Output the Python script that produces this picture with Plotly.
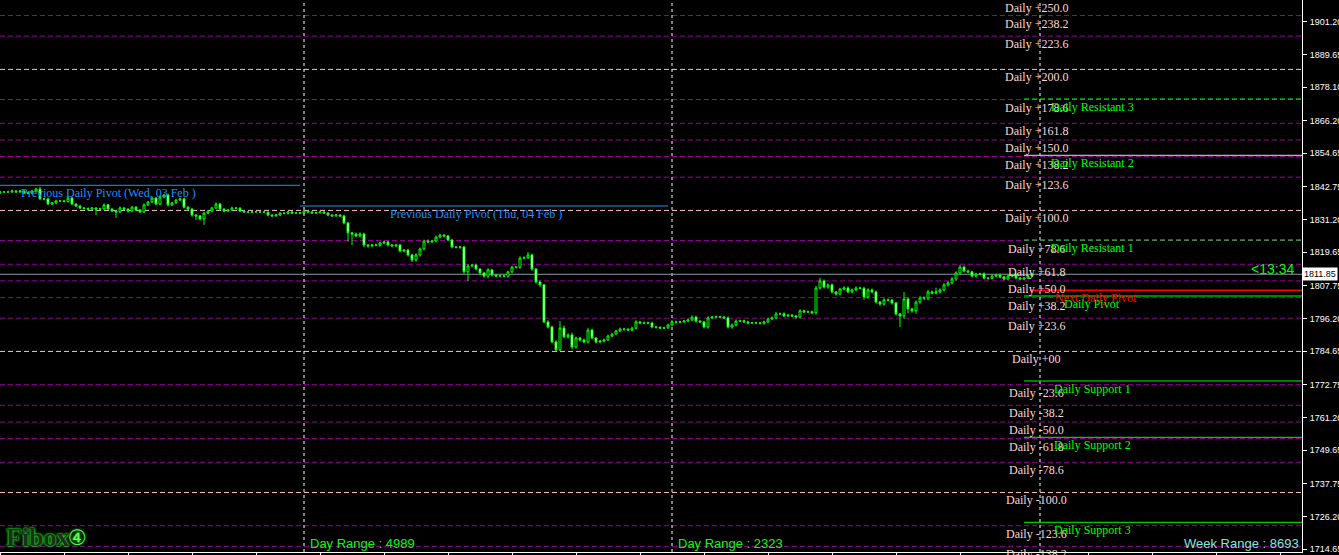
import plotly.graph_objects as go

# ---------------- data ----------------
opens = [
1840.6,1841.0,1841.0,1841.0,1841.3,1841.0,1841.3,1840.6,1840.6,1841.3,
1842.0,1838.5,1838.5,1836.7,1837.1,1837.8,1837.8,1837.6,1838.8,1836.7,
1836.0,1835.3,1835.1,1834.9,1835.3,1834.9,1835.0,1836.4,1834.9,1834.2,
1833.9,1835.3,1834.9,1834.2,1835.6,1834.6,1833.9,1836.4,1837.4,1838.8,
1836.7,1839.2,1839.9,1836.4,1837.1,1838.1,1838.5,1835.6,1834.9,1832.8,
1832.5,1831.4,1833.5,1834.2,1835.3,1836.7,1834.9,1834.2,1834.6,1835.3,
1835.2,1834.2,1833.9,1833.8,1833.9,1834.0,1833.9,1833.8,1832.8,1832.5,
1832.8,1833.5,1833.4,1833.9,1833.5,1833.6,1833.5,1834.2,1833.9,1833.5,
1833.6,1833.9,1833.5,1832.8,1832.5,1832.8,1832.5,1830.0,1826.5,1826.1,
1825.4,1826.1,1822.2,1821.9,1822.2,1822.1,1822.9,1823.3,1822.2,1821.9,
1822.2,1820.1,1820.4,1818.7,1816.9,1818.7,1820.8,1823.6,1823.3,1823.6,
1825.0,1825.7,1825.4,1824.0,1821.5,1821.4,1821.5,1812.7,1814.8,1815.1,
1813.7,1812.3,1811.2,1813.4,1811.6,1811.2,1811.3,1811.2,1812.7,1814.4,
1814.3,1817.6,1817.7,1818.7,1813.7,1809.1,1808.1,1795.0,1793.2,1787.9,
1785.1,1792.8,1789.7,1790.4,1786.1,1789.3,1788.6,1787.9,1792.1,1789.3,
1787.9,1788.2,1788.6,1790.0,1790.7,1791.8,1792.5,1792.4,1792.1,1792.8,
1795.0,1794.6,1794.7,1794.6,1793.2,1793.1,1792.8,1792.9,1793.9,1795.0,
1794.9,1795.0,1795.3,1795.7,1796.7,1795.3,1795.0,1793.2,1796.4,1796.7,
1796.8,1796.7,1796.4,1793.2,1793.9,1795.3,1795.4,1795.0,1794.6,1794.7,
1794.6,1794.5,1795.0,1796.0,1796.4,1797.8,1797.9,1797.1,1797.4,1797.1,
1796.7,1798.9,1798.5,1798.6,1798.2,1807.0,1809.5,1807.3,1808.1,1805.6,
1804.9,1806.6,1807.0,1805.6,1806.3,1807.0,1806.9,1803.8,1806.3,1805.6,
1802.0,1801.3,1802.8,1802.7,1801.7,1797.8,1797.1,1803.1,1799.6,1798.9,
1802.0,1803.5,1803.4,1805.6,1805.2,1805.6,1806.3,1808.1,1808.8,1810.2,
1812.3,1814.4,1813.0,1812.7,1811.2,1811.9,1812.0,1810.5,1810.4,1811.2,
1811.6,1810.9,1810.2,1811.2,1811.6,1810.5,1810.2,1810.5,1811.2]

closes = [
1841.0,1841.0,1841.0,1841.3,1841.0,1841.3,1840.6,1840.6,1841.3,1842.0,
1838.5,1838.5,1836.7,1837.1,1837.8,1837.8,1837.6,1838.8,1836.7,1836.0,
1835.3,1835.1,1834.9,1835.3,1834.9,1835.0,1836.4,1834.9,1834.2,1833.9,
1835.3,1834.9,1834.2,1835.6,1834.6,1833.9,1836.4,1837.4,1838.8,1836.7,
1839.2,1839.9,1836.4,1837.1,1838.1,1838.5,1835.6,1834.9,1832.8,1832.5,
1831.4,1833.5,1834.2,1835.3,1836.7,1834.9,1834.2,1834.6,1835.3,1835.2,
1834.2,1833.9,1833.8,1833.9,1834.0,1833.9,1833.8,1832.8,1832.5,1832.8,
1833.5,1833.4,1833.9,1833.5,1833.6,1833.5,1834.2,1833.9,1833.5,1833.6,
1833.9,1833.5,1832.8,1832.5,1832.8,1832.5,1830.0,1826.5,1826.1,1825.4,
1826.1,1822.2,1821.9,1822.2,1822.1,1822.9,1823.3,1822.2,1821.9,1822.2,
1820.1,1820.4,1818.7,1816.9,1818.7,1820.8,1823.6,1823.3,1823.6,1825.0,
1825.7,1825.4,1824.0,1821.5,1821.4,1821.5,1812.7,1814.8,1815.1,1813.7,
1812.3,1811.2,1813.4,1811.6,1811.2,1811.3,1811.2,1812.7,1814.4,1814.3,
1817.6,1817.7,1818.7,1813.7,1809.1,1808.1,1795.0,1793.2,1787.9,1785.1,
1792.8,1789.7,1790.4,1786.1,1789.3,1788.6,1787.9,1792.1,1789.3,1787.9,
1788.2,1788.6,1790.0,1790.7,1791.8,1792.5,1792.4,1792.1,1792.8,1795.0,
1794.6,1794.7,1794.6,1793.2,1793.1,1792.8,1792.9,1793.9,1795.0,1794.9,
1795.0,1795.3,1795.7,1796.7,1795.3,1795.0,1793.2,1796.4,1796.7,1796.8,
1796.7,1796.4,1793.2,1793.9,1795.3,1795.4,1795.0,1794.6,1794.7,1794.6,
1794.5,1795.0,1796.0,1796.4,1797.8,1797.9,1797.1,1797.4,1797.1,1796.7,
1798.9,1798.5,1798.6,1798.2,1807.0,1809.5,1807.3,1808.1,1805.6,1804.9,
1806.6,1807.0,1805.6,1806.3,1807.0,1806.9,1803.8,1806.3,1805.6,1802.0,
1801.3,1802.8,1802.7,1801.7,1797.8,1797.1,1803.1,1799.6,1798.9,1802.0,
1803.5,1803.4,1805.6,1805.2,1805.6,1806.3,1808.1,1808.8,1810.2,1812.3,
1814.4,1813.0,1812.7,1811.2,1811.9,1812.0,1810.5,1810.4,1811.2,1811.6,
1810.9,1810.2,1811.2,1811.6,1810.5,1810.2,1810.5,1811.2,1811.85]

wick_up = [
0.4,0.3,0.4,0.5,0.3,0.4,0.3,0.4,0.5,0.5,
0.8,0.4,0.5,0.3,0.4,0.4,0.3,0.5,0.4,0.3,
0.4,0.3,0.4,0.4,0.3,0.4,0.5,0.3,0.4,0.3,
0.5,0.4,0.3,0.4,0.4,0.3,0.5,0.4,0.6,0.4,
0.5,0.4,0.5,0.4,0.4,0.4,0.4,0.3,0.4,0.3,
0.3,0.5,0.4,0.4,0.6,0.4,0.3,0.4,0.5,0.4,
0.4,0.3,0.3,0.4,0.3,0.3,0.4,0.3,0.3,0.4,
0.4,0.3,0.4,0.3,0.3,0.3,0.5,0.3,0.3,0.4,
0.3,0.3,0.4,0.3,0.3,0.3,0.4,0.4,0.3,0.5,
0.6,0.5,0.4,0.4,0.5,0.5,0.4,0.4,0.3,0.4,
0.4,0.4,0.5,0.4,0.6,0.5,0.5,0.6,0.4,0.5,
0.5,0.4,0.4,0.4,0.3,0.4,0.4,0.6,0.4,0.5,
0.4,0.4,0.6,0.4,0.3,0.4,0.3,0.4,0.5,0.4,
0.6,0.5,1.0,0.5,0.4,0.5,0.4,0.6,0.5,0.6,
2.5,1.0,0.6,0.8,0.5,0.4,0.5,0.7,0.5,0.4,
0.4,0.5,0.5,0.4,0.4,0.5,0.4,0.4,0.5,0.6,
0.4,0.4,0.4,0.5,0.4,0.3,0.4,0.5,0.6,0.4,
0.4,0.4,0.5,0.6,0.5,0.4,0.4,0.6,0.4,0.4,
0.4,0.5,0.6,0.5,0.6,0.4,0.4,0.4,0.3,0.4,
0.3,0.4,0.5,0.5,0.7,0.4,0.5,0.4,0.4,0.4,
0.6,0.4,0.4,0.4,0.7,1.1,0.5,0.5,0.5,0.4,
0.5,0.6,0.5,0.5,0.6,0.4,0.5,0.6,0.5,0.5,
0.4,0.6,0.5,0.5,0.4,0.4,2.5,0.5,0.4,0.6,
0.6,0.5,0.7,0.5,1.5,0.6,0.6,0.6,0.7,0.6,
0.8,0.6,0.5,0.4,0.5,0.4,0.5,0.4,0.5,0.4,
0.5,0.4,0.6,0.4,0.5,0.4,0.4,0.5,0.3]

wick_dn = [
0.4,0.4,0.3,0.4,0.4,0.3,0.4,0.4,0.4,0.4,
0.4,0.5,0.4,0.4,0.5,0.4,0.4,0.4,0.5,0.4,
0.4,0.4,0.5,0.4,2.1,0.4,0.4,0.5,0.4,2.1,
0.4,0.4,0.5,0.4,0.5,0.4,0.4,0.4,0.4,0.5,
0.4,0.5,0.5,0.4,0.4,0.4,0.5,0.5,0.6,1.4,
0.5,2.1,0.4,0.5,0.4,0.5,0.4,0.4,0.4,0.4,
0.4,0.4,0.3,0.3,0.3,0.3,0.3,0.4,0.4,0.3,
0.3,0.3,0.4,0.3,0.3,0.4,0.4,0.3,0.3,0.3,
0.3,0.3,0.4,0.4,0.3,0.4,0.5,3.1,3.9,0.5,
0.5,0.8,0.6,0.5,0.4,0.5,0.4,0.5,0.5,0.5,
0.5,0.5,0.6,0.7,0.6,0.6,0.5,0.5,0.5,0.5,
0.4,0.5,0.5,0.5,0.4,0.5,0.6,3.2,0.6,0.5,
0.5,0.6,0.8,0.6,0.5,0.5,0.5,0.6,0.5,0.4,
0.5,0.5,0.5,0.6,0.6,0.7,0.5,0.5,0.5,0.4,
0.4,0.5,0.6,0.8,0.5,0.6,0.5,0.6,0.5,0.6,
0.5,0.5,0.4,0.5,0.4,0.4,0.5,0.4,0.5,0.5,
0.4,0.4,0.4,0.5,0.5,0.4,0.4,0.4,0.5,0.5,
0.4,0.4,0.4,0.5,0.6,0.4,0.5,0.6,0.4,0.4,
0.4,0.4,0.5,0.6,0.5,0.4,0.4,0.5,0.4,0.4,
0.4,0.5,0.5,0.4,0.5,0.4,0.5,0.4,0.4,0.5,
0.5,0.4,0.4,0.5,0.6,0.6,0.5,0.6,0.6,0.6,
0.6,0.5,0.5,0.5,0.5,0.4,1.0,0.6,0.5,0.6,
0.6,0.6,0.5,0.6,0.6,3.9,1.0,1.5,0.6,1.0,
0.6,0.6,0.8,0.5,0.5,0.6,0.6,0.6,0.6,0.6,
0.6,0.5,0.5,0.5,0.5,0.4,0.5,0.5,0.4,0.5,
0.5,0.5,0.5,0.4,0.5,0.4,0.4,0.5,0.4]

# previous day high / low used by the daily fibonacci
fib_low = 1784.55
fib_high = 1834.44
fib_levels = [250.0, 238.2, 223.6, 200.0, 178.6, 161.8, 150.0, 138.2, 123.6, 100.0,
              78.6, 61.8, 50.0, 38.2, 23.6, 0.0, -23.6, -38.2, -50.0, -61.8, -78.6,
              -100.0, -123.6, -138.2]

pivot_names = ["Daily Resistant 3", "Daily Resistant 2", "Daily Resistant 1",
               "Daily Pivot", "Daily Support 1", "Daily Support 2", "Daily Support 3"]
pivot_values = [1873.86, 1853.94, 1823.97, 1804.16, 1774.09, 1754.17, 1724.10]
next_pivot = 1806.18
prev_pivot_labels = ["Previous Daily Pivot (Wed, 03 Feb )", "Previous Daily Pivot (Thu, 04 Feb )"]
prev_pivot_values = [1843.32, 1836.0]
prev_pivot_bars = [(0, 75), (75, 167)]
day_starts = [76, 168, 260]
current_price = 1811.85
range_texts = ["Day Range : 4989", "Day Range : 2323"]
week_range_text = "Week Range : 8693"
timer_text = "<13:34"

price_ticks = [1901.20, 1889.65, 1878.10, 1866.20, 1854.65, 1842.75, 1831.20, 1819.65,
               1807.75, 1796.20, 1784.65, 1772.75, 1761.20, 1749.65, 1737.75, 1726.20, 1714.65]

Y_MIN, Y_MAX = 1713.59, 1908.88

# ---------------- figure ----------------
n = len(closes)
xs = list(range(n))
highs = [max(o, c) + w for o, c, w in zip(opens, closes, wick_up)]
lows = [min(o, c) - w for o, c, w in zip(opens, closes, wick_dn)]

LIME = "#00FF00"
SERIF = "Liberation Serif"
SANS = "Liberation Sans"

fig = go.Figure()
fig.add_trace(go.Candlestick(
    x=xs, open=opens, high=highs, low=lows, close=closes,
    increasing=dict(fillcolor="#000000", line=dict(color=LIME, width=1)),
    decreasing=dict(fillcolor="#FFFFFF", line=dict(color=LIME, width=1)),
    whiskerwidth=0, hoverinfo="skip", showlegend=False,
))

shapes = []
annotations = []

# fibonacci levels
for lv in fib_levels:
    p = fib_low + (fib_high - fib_low) * lv / 100.0
    col = "#FFC0CB" if abs(lv) % 100 == 0 else "#990099"
    shapes.append(dict(type="line", xref="paper", x0=0, x1=1, yref="y", y0=p, y1=p,
                       line=dict(color=col, width=1, dash="5px,3px"), layer="below"))
    if lv == 0:
        txt = "Daily +00"
    elif lv > 0:
        txt = "Daily +%.1f" % lv
    else:
        txt = "Daily -%.1f" % abs(lv)
    annotations.append(dict(x=259, y=min(p, Y_MAX - 0.05), xref="x", yref="y", text=txt, showarrow=False,
                            xanchor="center", yanchor="top", yshift=1,
                            font=dict(family=SERIF, size=12, color="#FFD6D6")))

# vertical day separators
for d in day_starts:
    shapes.append(dict(type="line", xref="x", x0=d, x1=d, yref="paper", y0=0, y1=1,
                       line=dict(color="#FFFFFF", width=1, dash="3px,3px"), layer="below"))

# current price line
shapes.append(dict(type="line", xref="paper", x0=0, x1=1, yref="y", y0=current_price, y1=current_price,
                   line=dict(color="#8A9AA8", width=1), layer="below"))

# previous pivots
for (a, b), v, t in zip(prev_pivot_bars, prev_pivot_values, prev_pivot_labels):
    shapes.append(dict(type="line", xref="x", x0=a, x1=b, yref="y", y0=v, y1=v,
                       line=dict(color="#1E90FF", width=1), layer="above"))
annotations.append(dict(x=27, y=prev_pivot_values[0], xref="x", yref="y", text=prev_pivot_labels[0],
                        showarrow=False, xanchor="center", yanchor="top", yshift=1,
                        font=dict(family=SERIF, size=12, color="#1E90FF")))
annotations.append(dict(x=119, y=prev_pivot_values[1], xref="x", yref="y", text=prev_pivot_labels[1],
                        showarrow=False, xanchor="center", yanchor="top", yshift=1,
                        font=dict(family=SERIF, size=12, color="#1E90FF")))

# pivot lines
pivot_styles = [("5px,3px", LIME), ("solid", "#B4FFB4"), ("5px,3px", LIME),
                ("solid", LIME), ("solid", LIME), ("solid", LIME), ("solid", LIME)]
for name, v, (dash, col) in zip(pivot_names, pivot_values, pivot_styles):
    shapes.append(dict(type="line", xref="x", x0=256, x1=325.5, yref="y", y0=v, y1=v,
                       line=dict(color=col, width=1, dash=dash), layer="above"))
    annotations.append(dict(x=273, y=v, xref="x", yref="y", text=name, showarrow=False,
                            xanchor="center", yanchor="top", yshift=1,
                            font=dict(family=SERIF, size=12, color=LIME)))
shapes.append(dict(type="line", xref="x", x0=257.5, x1=325.5, yref="y", y0=next_pivot, y1=next_pivot,
                   line=dict(color="#FF0000", width=1.5), layer="above"))
annotations.append(dict(x=274, y=next_pivot, xref="x", yref="y", text="Next Daily Pivot", showarrow=False,
                        xanchor="center", yanchor="top", yshift=1,
                        font=dict(family=SERIF, size=12, color="#FF0000")))

# range texts
annotations.append(dict(x=77, y=0.016, xref="x", yref="paper", text=range_texts[0], showarrow=False,
                        xanchor="left", yanchor="middle", font=dict(family=SANS, size=13, color=LIME)))
annotations.append(dict(x=169, y=0.016, xref="x", yref="paper", text=range_texts[1], showarrow=False,
                        xanchor="left", yanchor="middle", font=dict(family=SANS, size=13, color=LIME)))
annotations.append(dict(x=1, y=0.016, xref="paper", yref="paper", text=week_range_text, showarrow=False,
                        xanchor="right", yanchor="middle", xshift=-1,
                        font=dict(family=SANS, size=13, color="#7FE8D8")))
annotations.append(dict(x=324, y=1813.7, xref="x", yref="y", text=timer_text, showarrow=False,
                        xanchor="right", yanchor="middle",
                        font=dict(family=SANS, size=14, color=LIME)))

# current price box on axis
annotations.append(dict(x=1, y=current_price, xref="paper", yref="y", text="1811.85", showarrow=False,
                        xanchor="left", yanchor="middle", xshift=0, bgcolor="#FFFFFF", borderpad=1,
                        font=dict(family=SANS, size=9, color="#000000")))

# logo
annotations.append(dict(x=0.003, y=0.026, xref="paper", yref="paper", text="<b>Fibox</b>", showarrow=False,
                        xanchor="left", yanchor="middle",
                        font=dict(family=SERIF, size=26, color="#1E2E1E",
                                  shadow="0px 0px 2px #22FF22, 0px 0px 3px #22FF22")))
annotations.append(dict(x=0.0505, y=0.026, xref="paper", yref="paper", text="④", showarrow=False,
                        xanchor="left", yanchor="middle",
                        font=dict(family="DejaVu Sans", size=21, color="#55FF55",
                                  shadow="0px 0px 3px #22FF22")))

fig.update_layout(
    width=1339, height=555,
    margin=dict(l=0, r=37, t=0, b=3, autoexpand=False),
    paper_bgcolor="#000000", plot_bgcolor="#000000",
    showlegend=False,
    shapes=shapes, annotations=annotations,
    xaxis=dict(range=[0, 325.5], rangeslider=dict(visible=False), showgrid=False, zeroline=False,
               showline=True, linecolor="#FFFFFF", linewidth=1,
               tickvals=list(range(0, 326, 16)), ticktext=[""] * len(range(0, 326, 16)),
               ticks="outside", ticklen=3, tickcolor="#FFFFFF", fixedrange=True),
    yaxis=dict(range=[Y_MIN, Y_MAX], side="right", showgrid=False, zeroline=False,
               showline=True, linecolor="#FFFFFF", linewidth=1,
               tickvals=price_ticks, ticktext=["%.2f" % t for t in price_ticks],
               ticks="outside", ticklen=4, tickcolor="#FFFFFF", ticklabelstandoff=1,
               tickfont=dict(family=SANS, size=9, color="#FFFFFF"), fixedrange=True),
)

fig.write_html("out.html", config={"displayModeBar": False},
               post_script="document.body.style.margin='0px';document.body.style.overflow='hidden';")
